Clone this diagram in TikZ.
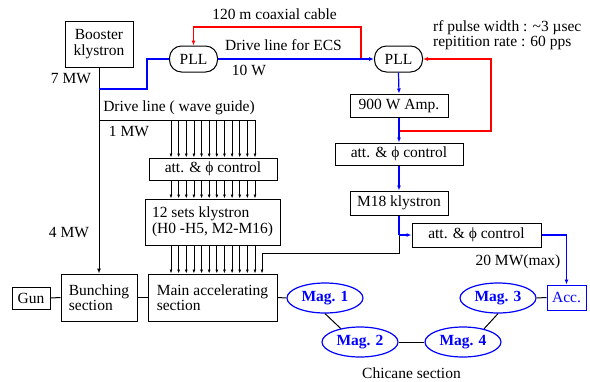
\documentclass[tikz,border=0pt]{standalone}
\usepackage{fontspec}
\setmainfont{Liberation Serif}
\usetikzlibrary{arrows.meta,shapes.geometric}
\definecolor{lblue}{RGB}{0,0,255}
\definecolor{lred}{RGB}{255,0,0}
\begin{document}
\begin{tikzpicture}[x=1pt,y=-1pt,
  every node/.style={font=\fontsize{15.5}{15.5}\selectfont, inner sep=0pt},
  box/.style={draw, line width=1pt, rectangle},
  pll/.style={draw, line width=1pt, rectangle, rounded corners=12pt, minimum width=48, minimum height=26},
  mag/.style={draw=lblue, ellipse, line width=1.2pt, minimum width=76, minimum height=30, text=lblue,
    font=\fontsize{15.5}{15.5}\selectfont\bfseries},
  conn/.style={line width=1pt, color=black},
  bconn/.style={line width=1.2pt, color=lblue},
  rconn/.style={line width=1.2pt, color=lred},
  arr/.style={-{Latex[length=5pt,width=4pt]}},
  sarr/.style={-{Latex[length=4pt,width=3pt]}, line width=0.8pt}]
\useasboundingbox (0,0) rectangle (590,381);

% nodes
\node[box,minimum width=68,minimum height=46,align=center] (boost) at (99,44) {Booster\\klystron};
\node[pll] (pll1) at (193.5,59) {PLL};
\node[pll] (pll2) at (398.5,59) {PLL};
\node[box,minimum width=98,minimum height=23] (amp) at (399,105.5) {900 W Amp.};
\node[box,minimum width=128,minimum height=22] (att2) at (399,154) {att. \& ϕ control};
\node[box,minimum width=98,minimum height=24] (m18) at (399,203) {M18 klystron};
\node[box,minimum width=129,minimum height=24] (att3) at (476.5,235) {att. \& ϕ control};
\node[draw=lblue,line width=1pt,text=lblue,minimum width=39,minimum height=25] (acc) at (566.5,297.5) {Acc.};
\node[mag] (mag1) at (325,298) {Mag. 1};
\node[mag] (mag2) at (360,342) {Mag. 2};
\node[mag] (mag4) at (463,342) {Mag. 4};
\node[mag] (mag3) at (498,298) {Mag. 3};
\node[box,minimum width=38,minimum height=22] (gun) at (31,298) {Gun};
\node[box,minimum width=76,minimum height=47,align=left] (bunch) at (99,297.5) {Bunching\\section};
\node[box,minimum width=129,minimum height=47,align=left] (main) at (212.5,297.5) {Main accelerating\\section};
\node[box,minimum width=128,minimum height=22] (att1) at (213,169) {att. \& ϕ control};
\node[box,minimum width=135,minimum height=46,align=left] (kly) at (212.5,222) {12 sets klystron\\(H0 -H5, M2-M16)};

% labels
\node (lcoax) at (274.5,14) {120 m coaxial cable};
\node (lecs) at (283.5,45) {Drive line for ECS};
\node (l10w) at (249,70) {10 W};
\node (l7mw) at (71,79) {7 MW};
\node (ldrive) at (179,108) {Drive line ( wave guide)};
\node (l1mw) at (129,131) {1 MW};
\node (l4mw) at (69,233) {4 MW};
\node (l20mw) at (518,262) {20 MW(max)};
\node (lchic) at (411.5,373) {Chicane section};
\node[align=left,anchor=west] (lrf) at (433,35) {rf pulse width : \textasciitilde 3 µsec\\repitition rate : 60 pps};

% coordinates
\coordinate (bj) at (99,89);
\coordinate (dl0) at (99,120);
\coordinate (dl1) at (255,120);
\coordinate (rj1) at (361,59);
\coordinate (rj2) at (399,131);
\coordinate (mj) at (399,235);

% red lines
\draw[rconn,arr] (rj1) -- (361,27) -| (pll1.north);
\draw[rconn,arr] (rj2) -- (491,131) |- (pll2.east);

% black main lines
\draw[conn,arr] (boost.south) -- (bunch.north);
\draw[conn] (dl0) -- (dl1);
\foreach \i in {0,...,11} {
  \pgfmathsetmacro{\xx}{171+\i*7.636}
  \draw[sarr] (\xx,120) -- (\xx,120 |- att1.north);
  \draw[sarr] (\xx,120 |- att1.south) -- (\xx,120 |- kly.north);
  \draw[sarr] (\xx,120 |- kly.south) -- (\xx,120 |- main.north);
}
\draw[conn,sarr] (mj) -- (399,253) -| (262,0 |- main.north);

% blue lines
\draw[bconn] (bj) -| (147,59) -- (pll1.west);
\draw[bconn,arr] (pll1.east) -- (pll2.west);
\draw[bconn,arr] (pll2.south) -- (amp.north);
\draw[bconn,arr] (amp.south) -- (att2.north);
\draw[bconn,arr] (att2.south) -- (m18.north);
\draw[bconn] (m18.south) -- (mj);
\draw[bconn,arr] (mj) -- (att3.west);
\draw[bconn,arr] (att3.east) -| (acc.north);

% beam line
\draw[conn] (gun.east) -- (bunch.west);
\draw[conn] (bunch.east) -- (main.west);
\draw[conn] (main.east) -- (mag1.west);
\draw[conn] (mag1.south) -- (mag2.145);
\draw[conn] (mag2.east) -- (mag4.west);
\draw[conn] (mag4.32) -- (mag3.south);
\draw[conn] (mag3.east) -- (acc.west);
\end{tikzpicture}
\end{document}
